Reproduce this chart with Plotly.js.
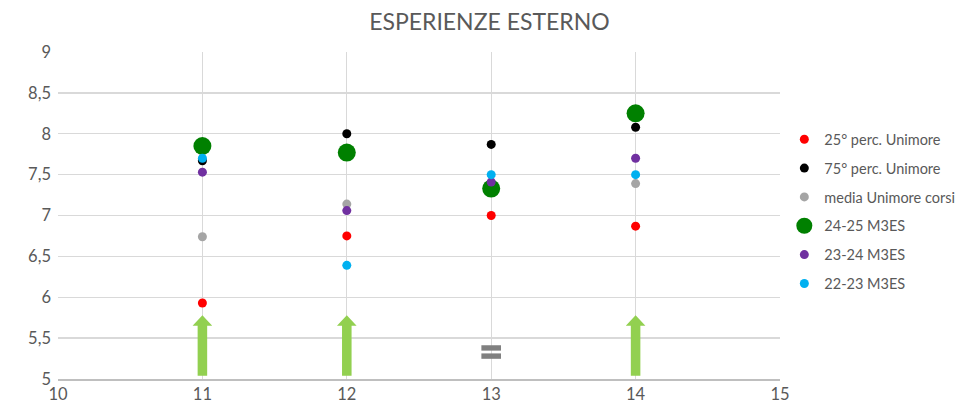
<!DOCTYPE html>
<html>
<head>
<meta charset="utf-8">
<script src="https://cdn.plot.ly/plotly-3.0.1.min.js"></script>
<style>html,body{margin:0;padding:0;background:#fff;}#chart{width:973px;height:414px;}</style>
</head>
<body>
<div id="chart"></div>
<script>
const xCats = [11, 12, 13, 14];
const perc25 = [5.93, 6.75, 7.0, 6.87];
const perc75 = [7.67, 8.0, 7.87, 8.08];
const mediaUnimore = [6.74, 7.14, 7.35, 7.39];
const m3es2425 = [7.85, 7.77, 7.33, 8.25];
const m3es2324 = [7.53, 7.06, 7.41, 7.70];
const m3es2223 = [7.70, 6.39, 7.50, 7.50];
const seriesNames = ["25° perc. Unimore", "75° perc. Unimore", "media Unimore corsi", "24-25 M3ES", "23-24 M3ES", "22-23 M3ES"];
const arrowX = [11, 12, 14];
const arrowTop = 5.78;
const equalX = [13];
const equalY = 5.33;

const colors = ["#FF0000", "#000000", "#A5A5A5", "#008000", "#7030A0", "#00B0F0"];
const sizes = [9, 9, 9, 18, 9, 9];
const seriesData = [perc25, perc75, mediaUnimore, m3es2425, m3es2324, m3es2223];

const traces = seriesData.map((ys, i) => ({
  type: "scatter", mode: "markers", x: xCats, y: ys, name: seriesNames[i],
  legendgroup: "g" + i,
  marker: {color: colors[i], size: sizes[i]},
  hoverinfo: "x+y+name"
}));

const shapes = [];
const sw = 0.033, hw = 0.068, base = 5.04, headBase = 5.65;
arrowX.forEach(x => {
  shapes.push({
    type: "path", xref: "x", yref: "y", fillcolor: "#92D050", line: {width: 0},
    path: `M ${x - sw} ${base} L ${x + sw} ${base} L ${x + sw} ${headBase} L ${x + hw} ${headBase} L ${x} ${arrowTop} L ${x - hw} ${headBase} L ${x - sw} ${headBase} Z`
  });
});
equalX.forEach(x => {
  const w = 0.068;
  shapes.push({type: "rect", xref: "x", yref: "y", x0: x - w, x1: x + w, y0: equalY + 0.017, y1: equalY + 0.083, fillcolor: "#808080", line: {width: 0}});
  shapes.push({type: "rect", xref: "x", yref: "y", x0: x - w, x1: x + w, y0: equalY - 0.083, y1: equalY - 0.017, fillcolor: "#808080", line: {width: 0}});
});

const layout = {
  width: 973, height: 414,
  margin: {l: 58, r: 193, t: 52, b: 35, autoexpand: false},
  paper_bgcolor: "#fff", plot_bgcolor: "#fff",
  separators: ",.",
  font: {family: "Lato, 'Open Sans', sans-serif", color: "#595959", size: 16},
  title: {text: "ESPERIENZE ESTERNO", font: {size: 23, color: "#595959"}, x: 0.503, xanchor: "center", y: 0.947, yanchor: "middle"},
  xaxis: {range: [10, 15], dtick: 1, tick0: 10, showgrid: true, gridcolor: "#D9D9D9", gridwidth: 1.3, zeroline: false,
          showline: true, linecolor: "#BFBFBF", linewidth: 1.5, ticks: "", tickfont: {size: 16.5, color: "#595959"}, fixedrange: true},
  yaxis: {range: [5, 9], dtick: 0.5, tick0: 5, showgrid: true, gridcolor: "#D9D9D9", gridwidth: 1.3, zeroline: false,
          showline: false, ticks: "", ticklabelstandoff: 6, tickfont: {size: 16.5, color: "#595959"}, fixedrange: true},
  legend: {x: 1.006, xanchor: "left", y: 0.782, yanchor: "top", font: {size: 14.5, color: "#595959"}, tracegroupgap: 7, itemwidth: 30, bgcolor: "rgba(0,0,0,0)"},
  shapes: shapes,
  showlegend: true
};

Plotly.newPlot("chart", traces, layout, {displayModeBar: false, staticPlot: true});
</script>
</body>
</html>
